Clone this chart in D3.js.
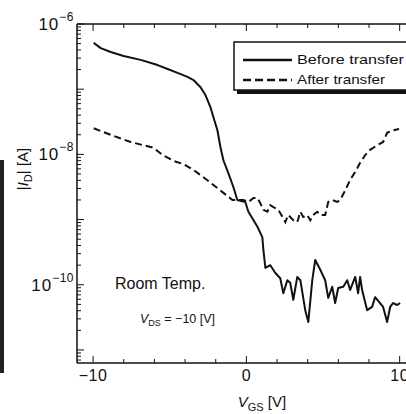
<!DOCTYPE html>
<html><head><meta charset="utf-8">
<script src="https://cdn.jsdelivr.net/npm/d3@7"></script>
<style>body{margin:0;background:#fff}svg{display:block}text{font-family:"Liberation Sans",Arial,sans-serif;fill:#111}</style>
</head><body>
<script>
// ---- data ----
const beforeV = [-9.96,-9.50,-8.85,-8.01,-6.90,-5.79,-5.14,-4.49,-3.84,-3.45,-2.99,-2.67,-2.34,-2.15,-1.89,-1.69,-1.50,-1.17,-0.85,-0.59,-0.07,0.13,0.39,0.72,1.04,1.11,1.24,1.56,1.89,2.21,2.41,2.67,2.86,3.06,3.32,3.52,3.84,4.04,4.30,4.49,4.82,5.14,5.34,5.60,5.79,5.99,6.32,6.58,6.77,7.10,7.29,7.42,7.55,7.88,8.20,8.40,8.72,8.92,9.18,9.38,9.57,9.83,10.03];
const beforeLogI = [-6.29,-6.37,-6.43,-6.49,-6.55,-6.63,-6.69,-6.75,-6.81,-6.86,-6.97,-7.09,-7.28,-7.43,-7.63,-7.89,-8.09,-8.29,-8.50,-8.70,-8.73,-8.88,-8.98,-9.11,-9.27,-9.47,-9.74,-9.70,-9.82,-9.90,-10.13,-9.93,-9.97,-10.23,-9.88,-9.93,-10.39,-10.57,-9.93,-9.62,-9.77,-9.93,-10.20,-10.03,-10.28,-10.05,-10.03,-9.93,-10.08,-9.88,-10.13,-9.88,-10.08,-10.39,-10.34,-10.19,-10.28,-10.34,-10.57,-10.34,-10.28,-10.31,-10.28];
const afterV = [-9.96,-8.85,-7.55,-6.71,-6.05,-5.47,-4.75,-4.10,-3.45,-2.80,-2.15,-1.50,-0.91,-0.20,0.13,0.46,0.72,0.91,1.11,1.37,1.56,1.76,2.08,2.41,2.54,2.73,3.06,3.32,3.52,3.71,3.97,4.17,4.36,4.62,4.82,5.14,5.34,5.60,5.92,6.12,6.45,6.77,7.10,7.42,7.75,8.07,8.53,8.92,9.18,9.57,9.96];
const afterLogI = [-7.60,-7.70,-7.81,-7.86,-7.90,-8.01,-8.10,-8.15,-8.24,-8.35,-8.47,-8.59,-8.70,-8.70,-8.73,-8.67,-8.67,-8.75,-8.85,-8.88,-8.78,-8.81,-8.85,-8.98,-9.04,-8.93,-9.01,-9.04,-8.88,-8.96,-8.93,-9.01,-8.93,-8.88,-8.93,-8.93,-8.73,-8.70,-8.73,-8.70,-8.55,-8.39,-8.27,-8.13,-8.01,-7.93,-7.86,-7.81,-7.67,-7.63,-7.61];
const xTickValues = [-10, 0, 10];
const xTickLabels = ["\u221210", "0", "10"];
const yTickExps = [-6, -8, -10];
const seriesNames = ["Before transfer", "After transfer"];

const W = 406, H = 414;
const svg = d3.select("body").append("svg").attr("width", W).attr("height", H);

const x = d3.scaleLinear().domain([-11.05, 11]).range([77, 415]);
const y = d3.scaleLog().domain([Math.pow(10, -11.2), 1e-6]).range([363, 24]);

// scan artifact bar at left
svg.append("rect").attr("x", 0).attr("y", 160).attr("width", 4).attr("height", 213).attr("fill", "#222");

const g = svg.append("g");
// frame
g.append("line").attr("x1", 77).attr("x2", 77).attr("y1", 24).attr("y2", 363).attr("stroke", "#111").attr("stroke-width", 1.5);
g.append("line").attr("x1", 77).attr("x2", 415).attr("y1", 363).attr("y2", 363).attr("stroke", "#111").attr("stroke-width", 1.5);
g.append("line").attr("x1", 77).attr("x2", 415).attr("y1", 24).attr("y2", 24).attr("stroke", "#111").attr("stroke-width", 1.5);

// y ticks (inward)
const yTicks = [];
for (let e = -12; e <= -6; e++) for (let m = 1; m <= 9; m++) {
  const v = m * Math.pow(10, e);
  if (v >= y.domain()[0] && v <= 1e-6 * 1.0001) yTicks.push({v, major: m === 1});
}
g.selectAll(".yt").data(yTicks).join("line")
  .attr("x1", 77).attr("x2", d => 77 + (d.major ? 7 : 4))
  .attr("y1", d => y(d.v)).attr("y2", d => y(d.v))
  .attr("stroke", "#111").attr("stroke-width", 1);

// x ticks bottom and top (inward)
const xTicks = d3.range(-10, 11, 2).map(v => ({v, major: v % 10 === 0}));
g.selectAll(".xb").data(xTicks).join("line")
  .attr("x1", d => x(d.v)).attr("x2", d => x(d.v))
  .attr("y1", 363).attr("y2", d => 363 - (d.major ? 7 : 4))
  .attr("stroke", "#111").attr("stroke-width", 1);
g.selectAll(".xt").data(xTicks).join("line")
  .attr("x1", d => x(d.v)).attr("x2", d => x(d.v))
  .attr("y1", 24).attr("y2", d => 24 + (d.major ? 7 : 4))
  .attr("stroke", "#111").attr("stroke-width", 1);

// x tick labels
g.selectAll(".xl").data(xTickValues).join("text")
  .attr("x", d => x(d)).attr("y", 381).attr("text-anchor", "middle")
  .attr("font-size", 16).attr("letter-spacing", 0.5).text((d, i) => xTickLabels[i]);

// y tick labels
yTickExps.forEach(e => {
  const t = g.append("text").attr("x", 74).attr("y", y(Math.pow(10, e)) + 6)
    .attr("text-anchor", "end").attr("font-size", 17).attr("letter-spacing", 1);
  t.append("tspan").text("10");
  t.append("tspan").attr("dy", -9).attr("font-size", 12).attr("letter-spacing", 0.5).text("\u2212" + Math.abs(e));
});

// axis titles
const yl = svg.append("text").attr("transform", "translate(28,169) rotate(-90)")
  .attr("text-anchor", "middle").attr("font-size", 15);
yl.append("tspan").text("|");
yl.append("tspan").attr("font-style", "italic").text("I");
yl.append("tspan").attr("dy", 4).attr("font-size", 11).text("D");
yl.append("tspan").attr("dy", -4).text("| [A]");

const xl = svg.append("text").attr("x", 262).attr("y", 407).attr("text-anchor", "middle").attr("font-size", 15);
xl.append("tspan").attr("font-style", "italic").text("V");
xl.append("tspan").attr("dy", 4).attr("font-size", 11).text("GS");
xl.append("tspan").attr("dy", -4).text(" [V]");

// annotations
svg.append("text").attr("x", 115).attr("y", 289).attr("font-size", 16).text("Room Temp.");
const vd = svg.append("text").attr("x", 140).attr("y", 323).attr("font-size", 12.5);
vd.append("tspan").attr("font-style", "italic").text("V");
vd.append("tspan").attr("dy", 3).attr("font-size", 9).text("DS");
vd.append("tspan").attr("dy", -3).text(" = \u221210 [V]");

// lines
const line = d3.line().x(d => x(d[0])).y(d => y(Math.pow(10, d[1])));
const beforeData = beforeV.map((v, i) => [v, beforeLogI[i]]);
const afterData = afterV.map((v, i) => [v, afterLogI[i]]);
svg.append("path").attr("d", line(beforeData)).attr("fill", "none").attr("stroke", "#111").attr("stroke-width", 2).attr("stroke-linejoin", "round");
svg.append("path").attr("d", line(afterData)).attr("fill", "none").attr("stroke", "#111").attr("stroke-width", 2).attr("stroke-dasharray", "7,4");

// legend
const lg = svg.append("g");
lg.append("rect").attr("x", 237).attr("y", 45).attr("width", 175).attr("height", 49).attr("fill", "#111");
lg.append("rect").attr("x", 234).attr("y", 42).attr("width", 175).attr("height", 48).attr("fill", "#fff").attr("stroke", "#111").attr("stroke-width", 1.5);
lg.append("line").attr("x1", 243).attr("x2", 292).attr("y1", 60).attr("y2", 60).attr("stroke", "#111").attr("stroke-width", 2.5);
lg.append("line").attr("x1", 243).attr("x2", 292).attr("y1", 80).attr("y2", 80).attr("stroke", "#111").attr("stroke-width", 2.5).attr("stroke-dasharray", "8,4");
lg.append("text").attr("x", 297).attr("y", 64).attr("font-size", 13).attr("textLength", 107).attr("lengthAdjust", "spacingAndGlyphs").text(seriesNames[0]);
lg.append("text").attr("x", 297).attr("y", 84).attr("font-size", 13).attr("textLength", 88).attr("lengthAdjust", "spacingAndGlyphs").text(seriesNames[1]);
</script>
</body></html>
